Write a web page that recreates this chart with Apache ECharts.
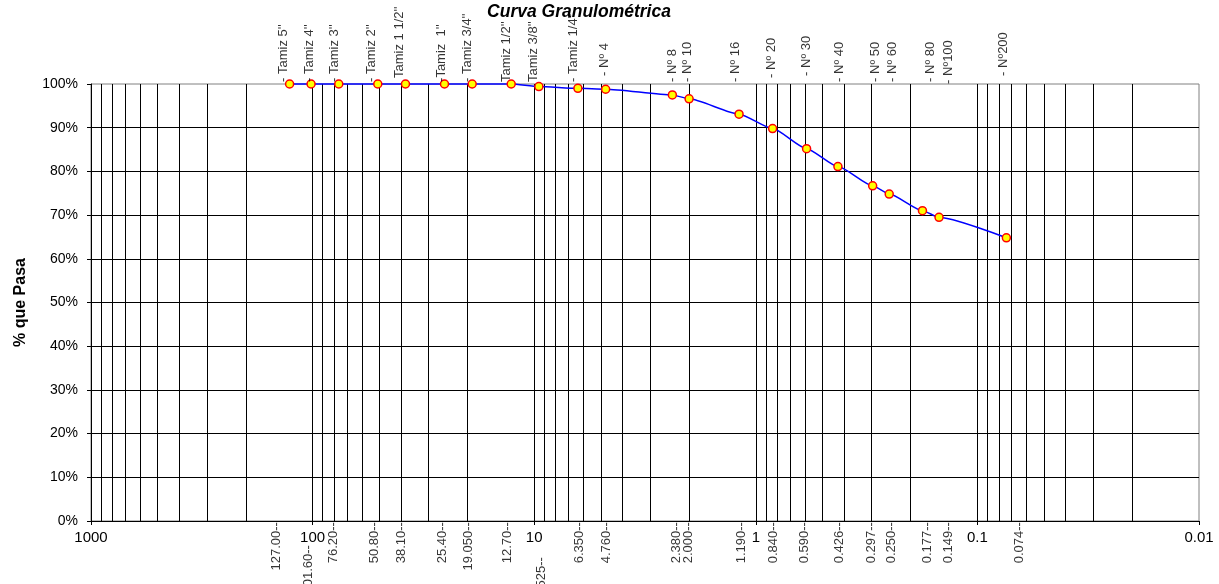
<!DOCTYPE html>
<html>
<head>
<meta charset="utf-8">
<script src="https://cdn.jsdelivr.net/npm/echarts@6/dist/echarts.min.js"></script>
<style>
html,body{margin:0;padding:0;background:#fff;}
#chart{width:1219px;height:584px;}
</style>
</head>
<body>
<div id="chart"></div>
<script>
// ---- data ----
const sieveSizes = [127.00, 101.60, 76.20, 50.80, 38.10, 25.40, 19.050, 12.70, 9.525, 6.350, 4.760, 2.380, 2.000, 1.190, 0.840, 0.590, 0.426, 0.297, 0.250, 0.177, 0.149, 0.074];
const percentPassing = [100, 100, 100, 100, 100, 100, 100, 100, 99.4, 99.0, 98.8, 97.5, 96.6, 93.1, 89.8, 85.2, 81.1, 76.7, 74.8, 71.0, 69.5, 64.8];
const sieveNames = ["- Tamiz 5''", "- Tamiz 4''", "- Tamiz 3''", "- Tamiz 2''", "Tamiz 1 1/2''", "-Tamiz  1''", "- Tamiz 3/4''", "Tamiz 1/2''", "Tamiz 3/8''", "- Tamiz 1/4''", "- Nº 4", "- Nº 8", "- Nº 10", "- Nº 16", "- Nº 20", "- Nº 30", "- Nº 40", "- Nº 50", "- Nº 60", "- Nº 80", "- Nº100", "- Nº200"];
const sizeLabels = ["127.00--", "101.60--", "76.20--", "50.80--", "38.10--", "25.40--", "19.050--", "12.70--", "9.525--", "6.350--", "4.760--", "2.380--", "2.000--", "1.190--", "0.840--", "0.590--", "0.426--", "0.297--", "0.250--", "0.177--", "0.149--", "0.074--"];
const chartTitle = 'Curva Granulométrica';
const yAxisTitle = '% que Pasa';

// ---- label nudges in screen px [dx, dy] (styling only) ----
const topNudge = [[-6,0],[-2,0],[-4.5,0],[-6,0],[-6,-4],[-3,0],[-5,0],[-4.5,0],[-5.5,0],[-4.7,0],[-1.5,-6],[0,0],[-2,0],[-4,0],[-1,-4],[0,-6],[1,0],[2.5,0],[3.5,0],[7.5,0],[9,2],[-3,-6]];
const bottomNudge = [[-13.6,0],[-3,23],[-5,0],[-3,0],[-4.5,0],[-2,0],[-3.7,0],[-3.7,0],[3,35],[2,0],[1,0],[4,0],[-1,0],[2,0],[1,0],[-2,0],[1.5,0],[-1.5,0],[2,0],[4.5,0],[9,0],[13,0]];
// label offsets are applied in the rotated (90deg) text frame
const rot = n => [-n[1], n[0]];

const FONT = '"Liberation Sans", Arial, sans-serif';

// minor log grid lines (2..9 of each decade)
const minorLines = [];
[0.01, 0.1, 1, 10, 100].forEach(d => {
  for (let m = 2; m <= 9; m++) minorLines.push({ xAxis: +(d * m).toPrecision(3) });
});

const mainData = sieveSizes.map((s, i) => [s, percentPassing[i]]);
const topLabelData = sieveSizes.map((s, i) => ({
  value: [s, 100],
  label: { formatter: sieveNames[i], offset: rot(topNudge[i]) }
}));
const bottomLabelData = sieveSizes.map((s, i) => ({
  value: [s, 0],
  label: { formatter: sizeLabels[i], offset: rot(bottomNudge[i]) }
}));

const chart = echarts.init(document.getElementById('chart'), null, { renderer: 'canvas' });
chart.setOption({
  animation: false,
  backgroundColor: '#fff',
  textStyle: { fontFamily: FONT, color: '#000' },
  title: {
    text: chartTitle,
    left: 579,
    textAlign: 'center',
    top: 3,
    padding: 0,
    textStyle: { fontFamily: FONT, fontSize: 17.5, fontWeight: 'bold', fontStyle: 'italic', color: '#000' }
  },
  grid: {
    left: 91, right: 20, top: 84, bottom: 63,
    show: true, borderColor: '#808080', borderWidth: 1, backgroundColor: 'transparent'
  },
  xAxis: {
    type: 'log',
    logBase: 10,
    min: 0.01,
    max: 1000,
    inverse: true,
    axisLine: { show: true, onZero: false, lineStyle: { color: '#000', width: 1 } },
    axisTick: { show: true, inside: false, length: 4, lineStyle: { color: '#000' } },
    axisLabel: {
      show: true, margin: 9, fontSize: 15, color: '#000', fontFamily: FONT,
      formatter: v => String(+(+v).toPrecision(3))
    },
    splitLine: { show: true, showMinLine: false, lineStyle: { color: '#000', width: 1 } },
    minorTick: { show: false },
    minorSplitLine: { show: false }
  },
  yAxis: {
    type: 'value',
    min: 0,
    max: 100,
    interval: 10,
    name: yAxisTitle,
    nameLocation: 'middle',
    nameGap: 62,
    nameTextStyle: { fontFamily: FONT, fontSize: 16, fontWeight: 'bold', color: '#000' },
    axisLine: { show: true, lineStyle: { color: '#000', width: 1 } },
    axisTick: { show: true, inside: false, length: 4, lineStyle: { color: '#000' } },
    axisLabel: { margin: 13, fontSize: 14, color: '#000', fontFamily: FONT, formatter: v => v + '%' },
    splitLine: { show: true, showMaxLine: false, lineStyle: { color: '#000', width: 1 } }
  },
  series: [
    {
      type: 'scatter',
      name: 'grid',
      data: [],
      silent: true,
      markLine: {
        silent: true,
        symbol: ['none', 'none'],
        label: { show: false },
        lineStyle: { color: '#000', width: 1, type: 'solid' },
        emphasis: { disabled: true },
        data: minorLines
      }
    },
    {
      type: 'line',
      name: 'granulometria',
      data: mainData,
      clip: false,
      smooth: 0.2,
      smoothMonotone: 'x',
      symbol: 'circle',
      symbolSize: 8,
      lineStyle: { color: '#0000FF', width: 1.5 },
      itemStyle: { color: '#FFFF00', borderColor: '#FF0000', borderWidth: 1.5 },
      z: 5
    },
    {
      type: 'scatter',
      name: 'topLabels',
      data: topLabelData,
      clip: false,
      symbolSize: 0.1,
      itemStyle: { color: 'rgba(0,0,0,0)' },
      silent: true,
      label: {
        show: true, position: 'top', distance: 2, rotate: 90,
        align: 'left', verticalAlign: 'middle',
        fontSize: 13, color: '#000', fontFamily: FONT
      },
      z: 6
    },
    {
      type: 'scatter',
      name: 'bottomLabels',
      data: bottomLabelData,
      clip: false,
      symbolSize: 0.1,
      itemStyle: { color: 'rgba(0,0,0,0)' },
      silent: true,
      label: {
        show: true, position: 'bottom', distance: 1, rotate: 90,
        align: 'right', verticalAlign: 'middle',
        fontSize: 13, color: '#000', fontFamily: FONT
      },
      z: 6
    }
  ]
});
</script>
</body>
</html>
